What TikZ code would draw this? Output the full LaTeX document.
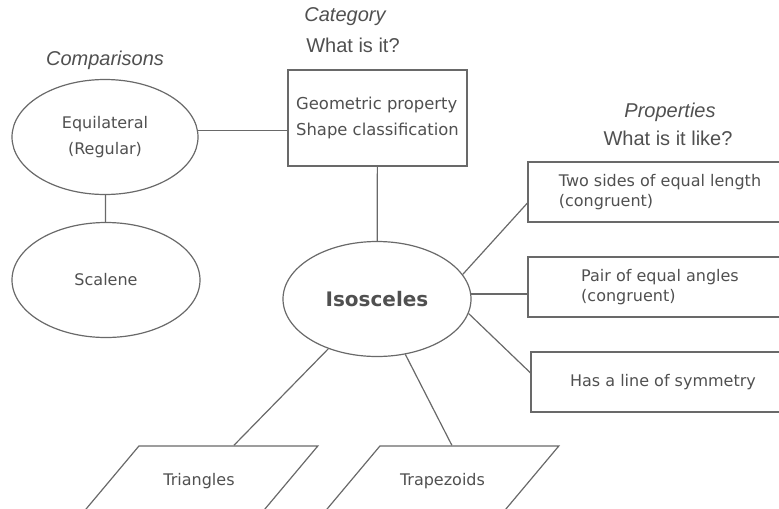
\documentclass[tikz,border=0pt]{standalone}
\usepackage{fontspec}
\setmainfont{Liberation Sans}
\newfontfamily\comicfont{DejaVu Sans}
\usepackage{xcolor}
\usetikzlibrary{shapes.geometric,calc}

\definecolor{inkgray}{RGB}{80,80,80}
\definecolor{edgegray}{RGB}{105,105,105}

\tikzset{
	bubble/.style={ellipse, draw=edgegray, line width=0.9pt, inner sep=0pt, align=center, text=inkgray, font=\comicfont\fontsize{12}{19}\selectfont},
	card/.style={rectangle, draw=edgegray, line width=0.9pt, inner sep=0pt, align=left, text=inkgray, font=\comicfont\fontsize{12}{15}\selectfont},
	slab/.style={trapezium, trapezium left angle=50, trapezium right angle=130, draw=edgegray, line width=0.9pt, text width=60pt, align=center, inner xsep=15pt, inner ysep=20.5pt, text=inkgray, font=\comicfont\fontsize{12}{15}\selectfont},
	heading/.style={text=inkgray, inner sep=0pt, font=\fontsize{15}{18}\selectfont},
	link/.style={draw=edgegray, line width=0.9pt}
}

\begin{document}
\begin{tikzpicture}[x=0.75pt,y=0.75pt,yscale=-1,xscale=1]
	\useasboundingbox (0,0) rectangle (779,508);
	
	% Text Node
	\draw (105,60) node [heading] (cmp) {\itshape Comparisons};
	% Text Node
	\draw (345,17) node [heading] (catA) {\itshape Category};
	% Text Node
	\draw (353,45) node [heading] (catB) {What is it?};
	% Text Node
	\draw (670,112) node [heading] (prpA) {\itshape Properties};
	% Text Node
	\draw (668,138) node [heading] (prpB) {What is it like?};
	
	%Shape: Ellipse
	\draw (105,137) node [bubble, minimum width=139.5pt, minimum height=86.25pt] (equi) {Equilateral\\(Regular)};
	%Shape: Ellipse
	\draw (106,280) node [bubble, minimum width=141pt, minimum height=86.25pt] (scal) {Scalene};
	%Shape: Rectangle
	\draw (377.5,118) node [card, minimum width=134.25pt, minimum height=72pt, font=\comicfont\fontsize{12.3}{19}\selectfont] (cat) {Geometric property\\Shape classification};
	%Shape: Ellipse
	\draw (377,299) node [bubble, minimum width=141pt, minimum height=86.25pt, font=\comicfont\bfseries\fontsize{15}{18}\selectfont] (iso) {Isosceles};
	
	%Shape: Rectangle
	\draw (660,192) node [card, minimum width=198pt, minimum height=45pt] (sides) {Two sides of equal length\\(congruent)};
	%Shape: Rectangle
	\draw (660,287) node [card, minimum width=198pt, minimum height=45pt] (angles) {Pair of equal angles\\(congruent)};
	%Shape: Rectangle
	\draw (663,382) node [card, minimum width=198pt, minimum height=45pt] (sym) {Has a line of symmetry};
	
	%Shape: Parallelogram
	\draw (199,481) node [slab] (tri) {Triangles};
	%Shape: Parallelogram
	\draw (440,481) node [slab] (trap) {Trapezoids};
	
	%Straight Lines
	\draw [link] (equi.4) -- (equi.4 -| cat.west);
	\draw [link] (equi) -- (scal);
	\draw [link] (cat) -- (iso);
	\draw [link] (iso.16) -- ($(sides.north west)!0.68!(sides.south west)$);
	\draw [link] (iso.3) -- (iso.3 -| angles.west);
	\draw [link] (iso.-9) -- ($(sym.north west)!0.35!(sym.south west)$);
	\draw [link] (iso) -- (tri);
	\draw [link] (iso) -- ($(trap.top left corner)!0.4!(trap.top right corner)$);
	
\end{tikzpicture}
\end{document}
